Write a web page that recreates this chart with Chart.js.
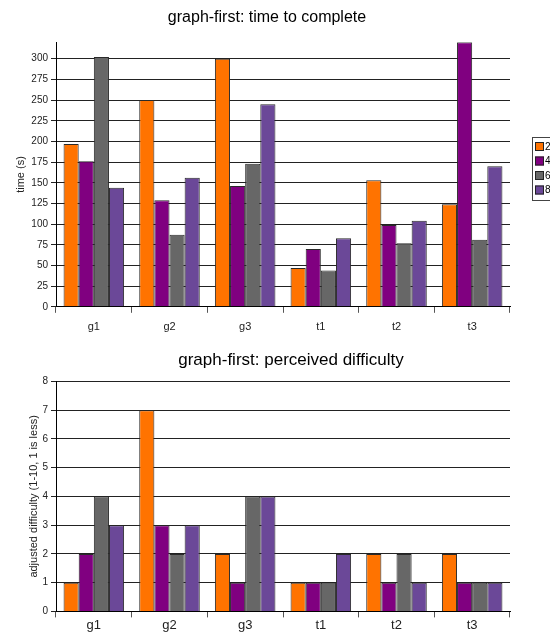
<!DOCTYPE html>
<html>
<head>
<meta charset="utf-8">
<script src="https://cdn.jsdelivr.net/npm/chart.js@4.4.1/dist/chart.umd.min.js"></script>
<style>
  body { margin: 0; background: #fff; overflow: hidden; }
  #top { position: absolute; left: 0; top: 0; width: 550px; height: 342px; }
  #bottom { position: absolute; left: 0; top: 344px; width: 550px; height: 297px; }
</style>
</head>
<body>
<div id="top"><canvas id="timeChart"></canvas></div>
<div id="bottom"><canvas id="diffChart"></canvas></div>
<script>
const categories = ['g1', 'g2', 'g3', 't1', 't2', 't3'];
const seriesNames = ['2', '4', '6', '8'];
const seriesColors = ['#ff7300', '#800080', '#676767', '#6b4898'];

const time2 = [197, 250, 300, 47, 153, 124];
const time4 = [176, 129, 146, 70, 99, 320];
const time6 = [302, 87, 173, 44, 77, 81];
const time8 = [144, 156, 245, 83, 104, 170];

const diff2 = [1, 7, 2, 1, 2, 2];
const diff4 = [2, 3, 1, 1, 1, 1];
const diff6 = [4, 2, 4, 1, 2, 1];
const diff8 = [3, 3, 4, 2, 1, 1];

const font = 'Arial, "Liberation Sans", sans-serif';
const narrow = '"Liberation Sans Narrow", Arial, sans-serif';

function makeSets(lists) {
  return lists.map((vals, i) => ({
    label: seriesNames[i],
    data: vals,
    backgroundColor: seriesColors[i],
    borderColor: '#2a2a2a',
    borderWidth: 1,
    categoryPercentage: 0.8,
    barPercentage: 1.0
  }));
}

// small boxed legend at the right edge (clipped like the original)
const sideLegend = {
  id: 'sideLegend',
  afterLayout(chart, args, opts) {
    // nudge the title sideways to where it sits in the original
    chart.titleBlock.left += opts.titleShift;
    chart.titleBlock.right += opts.titleShift;
  },
  afterDraw(chart, args, opts) {
    if (!opts.show) return;
    const ctx = chart.ctx;
    const x = 532, y = 137, rowH = 14.5;
    ctx.save();
    ctx.strokeStyle = '#444';
    ctx.lineWidth = 1;
    ctx.strokeRect(x + 0.5, y + 0.5, 40, rowH * 4 + 5);
    chart.data.datasets.forEach((ds, i) => {
      const by = y + 5 + i * rowH;
      ctx.fillStyle = ds.backgroundColor;
      ctx.fillRect(x + 3, by, 9, 9);
      ctx.strokeStyle = '#222';
      ctx.strokeRect(x + 3.5, by + 0.5, 8, 8);
      ctx.fillStyle = '#000';
      ctx.font = '10px ' + font;
      ctx.textBaseline = 'middle';
      ctx.fillText(ds.label, x + 13, by + 5);
    });
    ctx.restore();
  }
};

function makeOptions(cfg) {
  return {
    responsive: true,
    maintainAspectRatio: false,
    animation: false,
    layout: { padding: { left: 6, right: 40, top: 0, bottom: cfg.padBottom } },
    plugins: {
      legend: { display: false },
      tooltip: { enabled: false },
      title: {
        display: true,
        text: cfg.title,
        color: '#000',
        font: { family: font, size: cfg.titleSize, weight: 'normal' },
        padding: { top: cfg.titleTop, bottom: cfg.titleGap }
      },
      sideLegend: { show: cfg.legend, titleShift: cfg.titleShift }
    },
    scales: {
      x: {
        offset: true,
        grid: { offset: true, drawOnChartArea: false, drawTicks: true, tickLength: 6, color: '#555' },
        border: { color: '#000', width: 1 },
        ticks: { color: '#222', font: { family: narrow, size: cfg.xFont }, padding: cfg.xPad }
      },
      y: {
        min: 0,
        max: cfg.yMax,
        afterBuildTicks: s => { s.ticks = s.ticks.filter(t => t.value % cfg.step === 0); },
        afterFit: s => { s.width = 50; },
        grid: { color: '#222', lineWidth: 1, tickLength: 5 },
        border: { color: '#000', width: 1 },
        ticks: { stepSize: cfg.step, color: '#222', font: { family: narrow, size: 10 }, padding: 3 },
        title: { display: true, text: cfg.yTitle, color: '#222', font: { family: font, size: 11 }, padding: { top: cfg.yTitlePad, bottom: 0 } }
      }
    }
  };
}

new Chart(document.getElementById('timeChart'), {
  type: 'bar',
  data: { labels: categories, datasets: makeSets([time2, time4, time6, time8]) },
  options: makeOptions({
    title: 'graph-first: time to complete', titleSize: 16, titleTop: 8, titleGap: 15, titleShift: 9,
    yTitle: 'time (s)', yTitlePad: 8, yMax: 320, step: 25,
    legend: true, xFont: 11, xPad: 8, padBottom: 0
  }),
  plugins: [sideLegend]
});

new Chart(document.getElementById('diffChart'), {
  type: 'bar',
  data: { labels: categories, datasets: makeSets([diff2, diff4, diff6, diff8]) },
  options: makeOptions({
    title: 'graph-first: perceived difficulty', titleSize: 17, titleTop: 6, titleGap: 11, titleShift: 33,
    yTitle: 'adjusted difficulty (1-10, 1 is less)', yTitlePad: 21, yMax: 8, step: 1,
    legend: false, xFont: 13, xPad: 0, padBottom: 8
  }),
  plugins: [sideLegend]
});
</script>
</body>
</html>
